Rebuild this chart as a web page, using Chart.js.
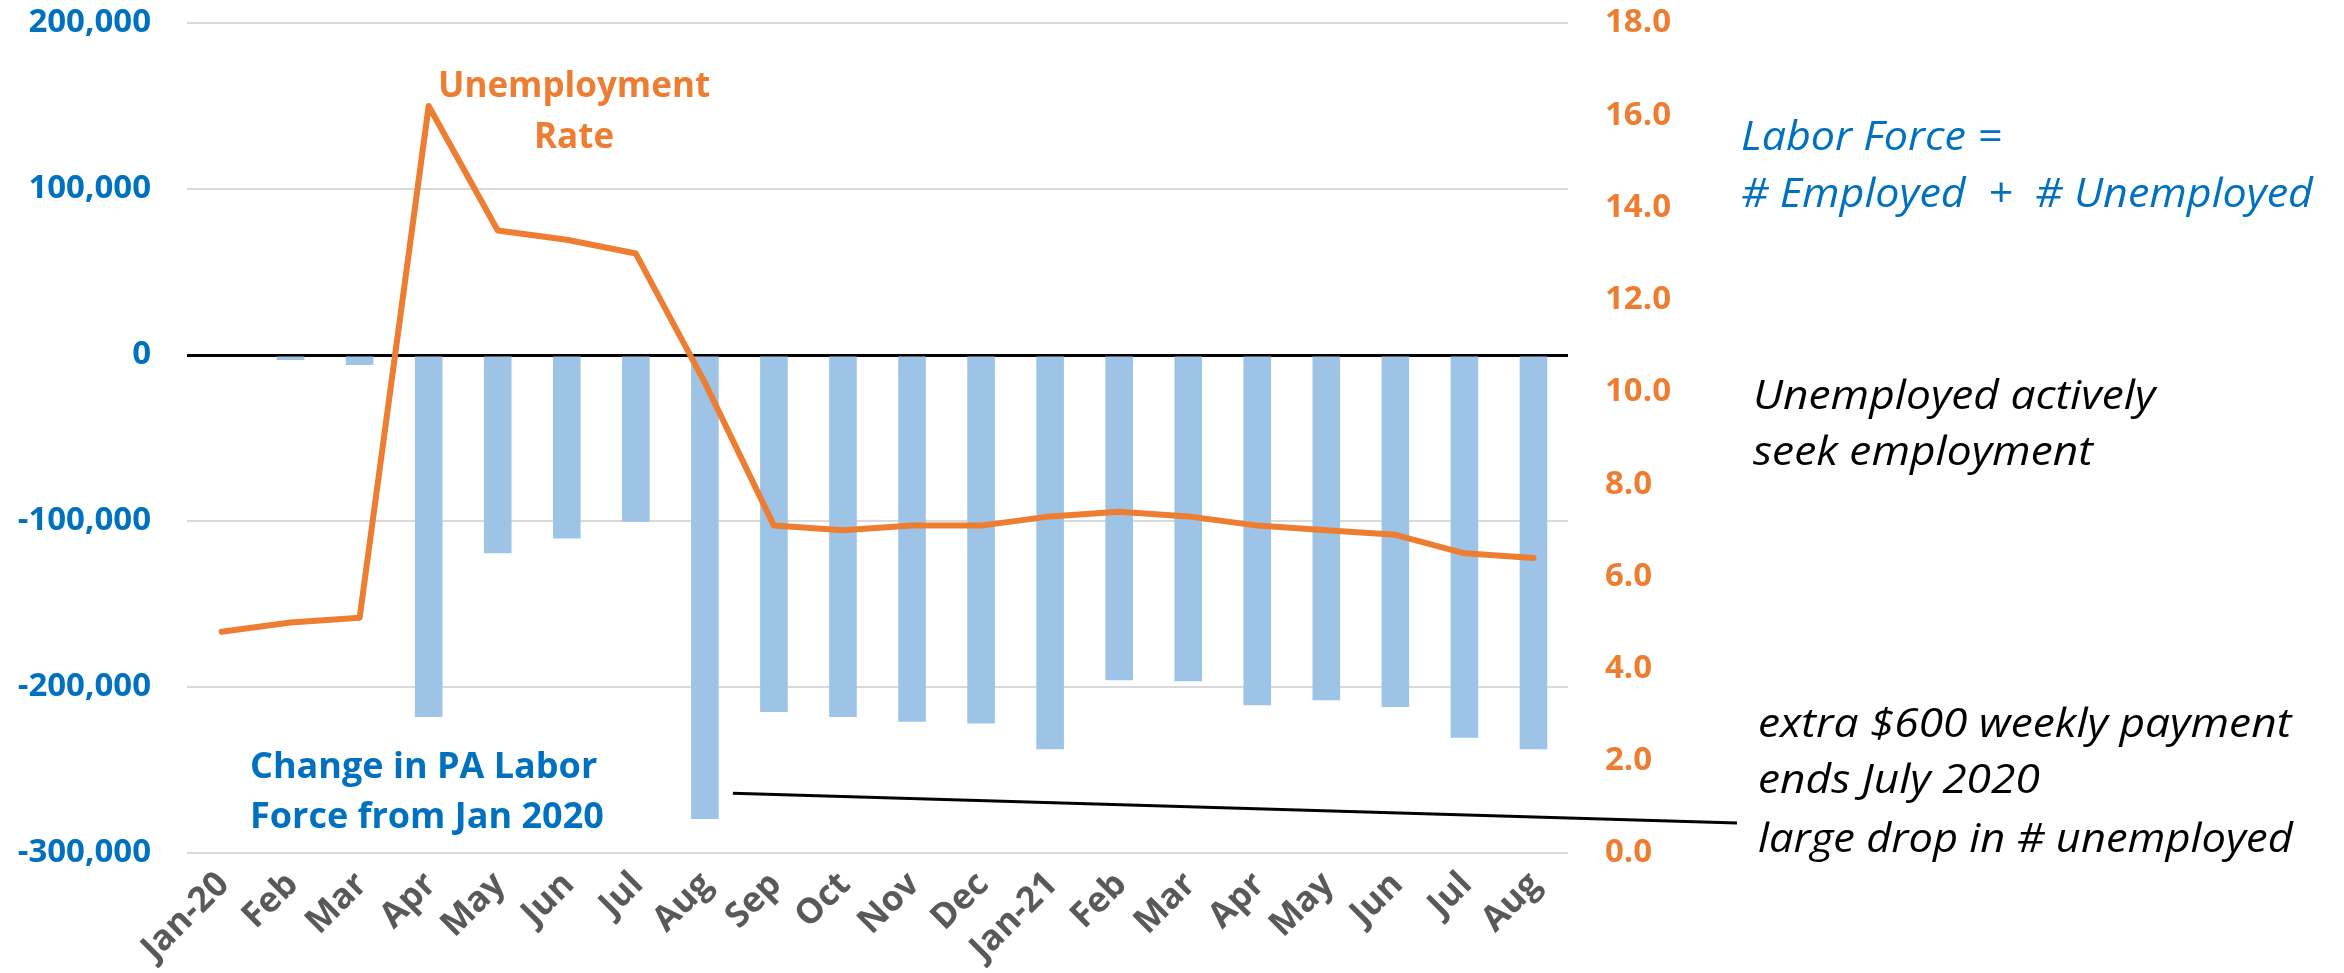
<!DOCTYPE html>
<html>
<head>
<meta charset="utf-8">
<title>PA Labor Force</title>
<script src="https://cdn.jsdelivr.net/npm/chart.js"></script>
<style>
  body { margin: 0; background: #fff; }
  canvas { display: block; }
</style>
</head>
<body>
<canvas id="myChart" width="2344" height="973"></canvas>
<script>
const months = ["Jan-20", "Feb", "Mar", "Apr", "May", "Jun", "Jul", "Aug", "Sep", "Oct",
  "Nov", "Dec", "Jan-21", "Feb", "Mar", "Apr", "May", "Jun", "Jul", "Aug"];

// change in PA labor force since Jan 2020 (left axis)
const laborChange = [0, -3000, -6000, -218000, -119500, -110500, -100500, -279500, -215000, -218000,
  -221000, -222000, -237500, -196000, -196500, -211000, -208000, -212000, -230500, -237500];

// unemployment rate, % (right axis)
const unempRate = [4.8, 5.0, 5.1, 16.2, 13.5, 13.3, 13.0, 10.2, 7.1, 7.0,
  7.1, 7.1, 7.3, 7.4, 7.3, 7.1, 7.0, 6.9, 6.5, 6.4];

const leftTicks = [-300000, -200000, -100000, 0, 100000, 200000];
const rightTicks = [0, 2, 4, 6, 8, 10, 12, 14, 16, 18];

const FONT = '"Open Sans", "Noto Sans", sans-serif';
const BLUE = "#0070C0";
const ORANGE = "#ED7D31";

// italic notes are a bit wider in the original, stretch them a little
function wideText(ctx, text, x, y, sx) {
  ctx.save();
  ctx.translate(x, y);
  ctx.scale(sx, 1);
  ctx.fillText(text, 0, 0);
  ctx.restore();
}

// text boxes and the pointer line, drawn after the chart
const notes = {
  id: "notes",
  afterDraw(chart) {
    const ctx = chart.ctx;
    const x = chart.scales.x;
    const y = chart.scales.y;
    ctx.save();
    ctx.textBaseline = "alphabetic";

    ctx.fillStyle = ORANGE;
    ctx.font = "bold 35px " + FONT;
    ctx.textAlign = "center";
    ctx.fillText("Unemployment", 574, 97);
    ctx.fillText("Rate", 574, 148);

    ctx.fillStyle = BLUE;
    ctx.font = "bold 36px " + FONT;
    ctx.textAlign = "left";
    ctx.fillText("Change in PA Labor", 250, 778);
    ctx.fillText("Force from Jan 2020", 250, 828);

    ctx.font = "italic 41px " + FONT;
    wideText(ctx, "Labor Force =", 1741, 150, 1.05);
    wideText(ctx, "# Employed  +  # Unemployed", 1741, 207, 1.05);

    ctx.fillStyle = "#000";
    wideText(ctx, "Unemployed actively", 1753, 409, 1.08);
    wideText(ctx, "seek employment", 1753, 465, 1.08);
    wideText(ctx, "extra $600 weekly payment", 1758, 737, 1.08);
    wideText(ctx, "ends July 2020", 1758, 793, 1.08);
    wideText(ctx, "large drop in # unemployed", 1758, 852, 1.06);

    // pointer from Aug 2020 bar to the note
    ctx.strokeStyle = "#000";
    ctx.lineWidth = 3;
    ctx.beginPath();
    ctx.moveTo(x.getPixelForValue(7) + 28, y.getPixelForValue(-264000));
    ctx.lineTo(1737, y.getPixelForValue(-282000));
    ctx.stroke();
    ctx.restore();
  },
};

// keep the label padding from pushing the plot area down
function noVertPad(scale, w) {
  scale.width = w;
  scale.paddingTop = 0;
  scale.paddingBottom = 0;
}

const chart = new Chart(document.getElementById("myChart"), {
  data: {
    labels: months,
    datasets: [
      {
        type: "line",
        label: "Unemployment Rate",
        data: unempRate,
        yAxisID: "y1",
        borderColor: ORANGE,
        borderWidth: 6,
        pointRadius: 0,
        tension: 0,
        borderJoinStyle: "round",
        borderCapStyle: "round",
        order: 0,
      },
      {
        type: "bar",
        label: "Change in PA Labor Force from Jan 2020",
        data: laborChange,
        yAxisID: "y",
        backgroundColor: "#9DC3E6",
        borderWidth: 0,
        categoryPercentage: 1,
        barPercentage: 0.4,
        order: 1,
      },
    ],
  },
  options: {
    responsive: false,
    animation: false,
    devicePixelRatio: 1,
    layout: { padding: { top: 23, left: 0, right: 0, bottom: 0 } },
    plugins: {
      legend: { display: false },
      tooltip: { enabled: false },
    },
    scales: {
      x: {
        grid: { display: false },
        border: { display: false },
        ticks: {
          color: "#595959",
          font: { family: FONT, size: 35, weight: "bold" },
          minRotation: 45,
          maxRotation: 45,
          padding: 3,
          labelOffset: 2,
          autoSkip: false,
        },
        afterFit: (scale) => { scale.height = 120; },
      },
      y: {
        position: "left",
        min: -300000,
        max: 200000,
        afterBuildTicks: (scale) => { scale.ticks = leftTicks.map((v) => ({ value: v })); },
        grid: {
          drawTicks: false,
          color: (c) => (c.tick && c.tick.value === 0 ? "#000" : "#D9D9D9"),
          lineWidth: (c) => (c.tick && c.tick.value === 0 ? 3 : 2),
        },
        border: { display: false },
        ticks: {
          color: BLUE,
          font: { family: FONT, size: 33, weight: "bold" },
          padding: 36,
          callback: (v) => v.toLocaleString("en-US"),
        },
        afterFit: (scale) => noVertPad(scale, 187),
      },
      y1: {
        position: "right",
        min: 0,
        max: 18,
        afterBuildTicks: (scale) => { scale.ticks = rightTicks.map((v) => ({ value: v })); },
        grid: { display: false, drawTicks: false },
        border: { display: false },
        ticks: {
          color: ORANGE,
          font: { family: FONT, size: 33, weight: "bold" },
          padding: 37,
          callback: (v) => v.toFixed(1),
        },
        afterFit: (scale) => noVertPad(scale, 776),
      },
    },
  },
  plugins: [notes],
});
</script>
</body>
</html>
